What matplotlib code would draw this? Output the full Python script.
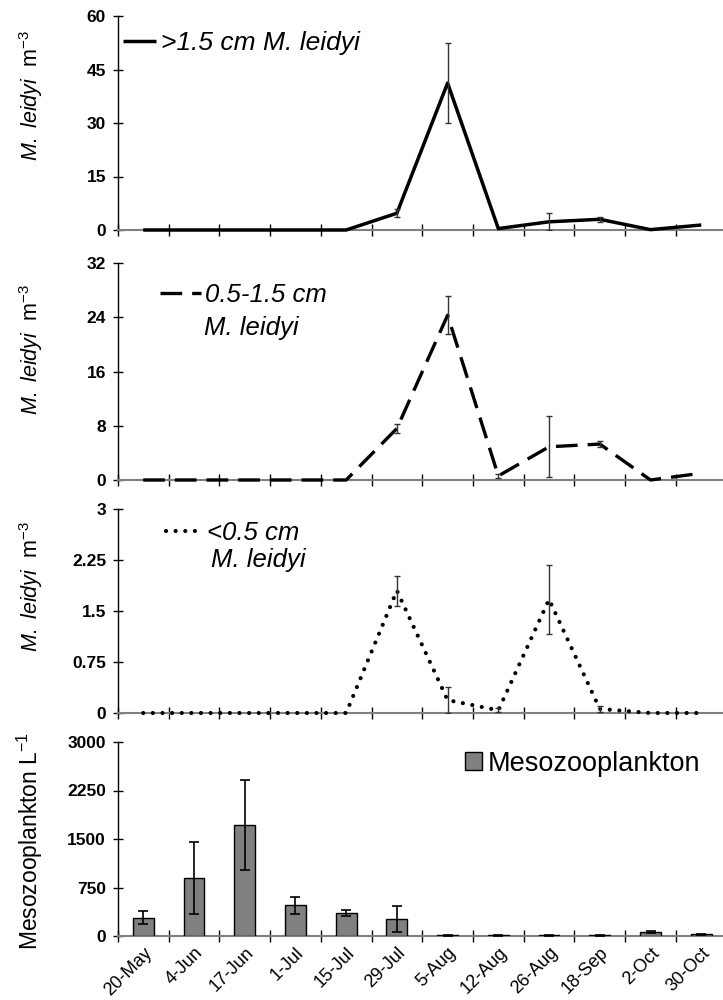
import numpy as np
import matplotlib
matplotlib.use('Agg')
import matplotlib.pyplot as plt
from matplotlib.patches import Patch

plt.rcParams['font.family'] = ['Liberation Sans', 'DejaVu Sans']
plt.rcParams['mathtext.fontset'] = 'custom'
plt.rcParams['mathtext.rm'] = 'Liberation Sans'
plt.rcParams['mathtext.it'] = 'Liberation Sans:italic'
plt.rcParams['mathtext.bf'] = 'Liberation Sans:bold'

dates = ['20-May', '4-Jun', '17-Jun', '1-Jul', '15-Jul', '29-Jul',
         '5-Aug', '12-Aug', '26-Aug', '18-Sep', '2-Oct', '30-Oct']

large = [0, 0, 0, 0, 0, 4.7, 41.2, 0.4, 2.3, 3.0, 0.1, 1.4]
large_err = [0, 0, 0, 0, 0, 1.1, 11.2, 0, 2.4, 0.7, 0, 0]
medium = [0, 0, 0, 0, 0, 7.6, 24.3, 0.6, 4.9, 5.3, 0, 1.0]
medium_err = [0, 0, 0, 0, 0, 0.6, 2.8, 0.3, 4.5, 0.5, 0, 0]
small = [0, 0, 0, 0, 0, 1.80, 0.19, 0.04, 1.67, 0.06, 0, 0]
small_err = [0, 0, 0, 0, 0, 0.22, 0.19, 0.03, 0.51, 0.04, 0, 0]
meso = [285, 895, 1720, 475, 355, 265, 12, 8, 10, 15, 62, 30]
meso_err = [95, 560, 700, 135, 50, 205, 5, 4, 5, 8, 12, 8]

x = np.arange(len(dates))

fig = plt.figure(figsize=(7.23, 10), dpi=100)
ax1 = fig.add_axes([0.163, 0.770, 0.842, 0.214])
ax2 = fig.add_axes([0.163, 0.520, 0.842, 0.217])
ax3 = fig.add_axes([0.163, 0.287, 0.842, 0.204])
ax4 = fig.add_axes([0.163, 0.064, 0.842, 0.194])

ylab = r'$\mathit{M.\ leidyi}$  m$^{-3}$'


def style(ax, ymax, yticks, fmt, labelx=-0.12, labely=0.5, label=ylab,
          lsize=15.5):
    ax.set_xlim(-0.5, 11.5)
    ax.set_ylim(0, ymax)
    for s in ['top', 'right']:
        ax.spines[s].set_visible(False)
    ax.spines['left'].set_linewidth(1)
    ax.spines['bottom'].set_color('#808080')
    ax.spines['bottom'].set_linewidth(1.5)
    ax.set_xticks(np.arange(-0.5, 12, 1))
    ax.set_xticklabels([])
    ax.tick_params(axis='x', which='major', direction='inout', length=9,
                   width=1, color='black')
    ax.set_yticks(yticks)
    ax.set_yticklabels([fmt(v) for v in yticks], fontsize=12.5,
                       fontweight='bold')
    ax.tick_params(axis='y', direction='inout', length=7, width=1, pad=5)
    ax.set_ylabel(label, fontsize=lsize)
    ax.yaxis.set_label_coords(labelx, labely)


def errs(ax, vals, err, lw=1, cap=2.5):
    v = np.array(vals)
    e = np.array(err)
    m = e > 0
    ax.errorbar(x[m], v[m], yerr=e[m], fmt='none', ecolor='#333333',
                elinewidth=lw, capsize=cap, capthick=lw, zorder=4)


# panel 1
ax1.plot(x, large, color='black', lw=2.5, solid_capstyle='butt',
         label='>1.5 cm M. leidyi', zorder=3, clip_on=False)
errs(ax1, large, large_err)
style(ax1, 60, [0, 15, 30, 45, 60], lambda v: '%d' % v, labely=0.63)
ax1.legend(loc='center left', bbox_to_anchor=(0.008, 0.874), frameon=False,
           borderpad=0, borderaxespad=0, handlelength=1.25,
           handletextpad=0.2, prop={'size': 19, 'style': 'italic'})

# panel 2
ax2.plot(x, medium, color='black', lw=2.4, linestyle=(0, (6.5, 3)),
         label='0.5-1.5 cm', zorder=3, clip_on=False)
errs(ax2, medium, medium_err)
style(ax2, 32, [0, 8, 16, 24, 32], lambda v: '%d' % v, labely=0.60)
ax2.legend(loc='center left', bbox_to_anchor=(0.069, 0.853), frameon=False,
           borderpad=0, borderaxespad=0, handlelength=1.6,
           handletextpad=0.15, prop={'size': 18.5, 'style': 'italic'})
ax2.text(0.141, 0.70, 'M. leidyi', transform=ax2.transAxes, fontsize=18.5,
         style='italic', va='center', ha='left')

# panel 3
ax3.plot(x, small, color='black', lw=3, linestyle=(0, (0.01, 2.3)),
         dash_capstyle='round', label='<0.5 cm', zorder=3, clip_on=False)
errs(ax3, small, small_err)
style(ax3, 3, [0, 0.75, 1.5, 2.25, 3],
      lambda v: ('%g' % v), labely=0.62)
ax3.legend(loc='center left', bbox_to_anchor=(0.079, 0.882), frameon=False,
           borderpad=0, borderaxespad=0, handlelength=1.4,
           handletextpad=0.2, prop={'size': 18.5, 'style': 'italic'})
ax3.text(0.153, 0.75, 'M. leidyi', transform=ax3.transAxes, fontsize=18.5,
         style='italic', va='center', ha='left')

# panel 4
ax4.bar(x, meso, width=0.41, color='#808080', edgecolor='black',
        linewidth=1, zorder=3)
ax4.errorbar(x, meso, yerr=meso_err, fmt='none', ecolor='black',
             elinewidth=1.2, capsize=3.5, capthick=1.2, zorder=4)
style(ax4, 3000, [0, 750, 1500, 2250, 3000], lambda v: '%d' % v,
      labely=0.49, label=r'Mesozooplankton L$^{-1}$', lsize=16.5)
ax4.legend(handles=[Patch(facecolor='#808080', edgecolor='black',
                          label='Mesozooplankton')],
           loc='center left', bbox_to_anchor=(0.57, 0.887), frameon=False,
           borderpad=0, borderaxespad=0, handlelength=0.65, handleheight=0.65,
           handletextpad=0.2, prop={'size': 19.5})
ax4.set_xticks(x, minor=True)
ax4.set_xticklabels(dates, minor=True, rotation=45, ha='right',
                    rotation_mode='anchor', fontsize=13)
ax4.tick_params(axis='x', which='minor', length=0, pad=6)

fig.savefig('out.png', dpi=100)
